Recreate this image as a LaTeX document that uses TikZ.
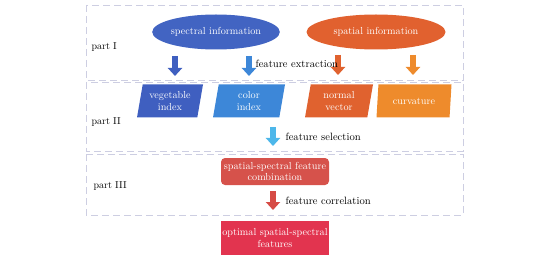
\documentclass[tikz,border=0pt]{standalone}
\usetikzlibrary{shapes.geometric,arrows.meta}
\definecolor{boxline}{HTML}{CDCEE2}
\definecolor{cspectral}{HTML}{4264C2}
\definecolor{cspatial}{HTML}{E1612F}
\definecolor{cveg}{HTML}{3F5FC0}
\definecolor{ccolor}{HTML}{3D87D8}
\definecolor{cnormal}{HTML}{E0622F}
\definecolor{ccurv}{HTML}{EE8B2C}
\definecolor{cssf}{HTML}{D6524B}
\definecolor{copt}{HTML}{E2344F}
\definecolor{clight}{HTML}{4DB7EA}
\definecolor{cred}{HTML}{D64B45}
\begin{document}
\begin{tikzpicture}[x=1pt,y=-1pt,
  partbox/.style={draw=boxline,line width=0.9pt,dash pattern=on 7pt off 4pt},
  partlabel/.style={anchor=west,font=\fontsize{10}{11}\selectfont,text=black},
  txt/.style={font=\fontsize{10.6}{12}\selectfont,text=black,anchor=west},
  inshape/.style={text=white,font=\fontsize{10.2}{11.5}\selectfont,align=center,inner sep=0pt},
  oval/.style={inshape,ellipse,minimum height=35pt},
  para/.style={inshape,trapezium,trapezium left angle=73,trapezium right angle=107,trapezium stretches body,minimum height=33pt},
  fatarrow/.style={line width=6pt,-{Triangle[width=14pt,length=8pt]}}
]
\useasboundingbox (0,0) rectangle (554,259);
% part boxes
\draw[partbox] (86,5) rectangle (463,80);
\draw[partbox] (86,82) rectangle (463,151);
\draw[partbox] (86,154) rectangle (463,215);
\node[partlabel] (p1) at (88,47) {part I};
\node[partlabel] (p2) at (88,122) {part II};
\node[partlabel] (p3) at (90,186) {part III};
% ellipses
\node[oval,fill=cspectral,minimum width=126pt] (spec) at (216,32) {spectral information};
\node[oval,fill=cspatial,minimum width=139pt] (spat) at (376,32) {spatial information};
% parallelograms
\node[para,fill=cveg,minimum width=66pt] (veg) at (170,101) {vegetable\\index};
\node[para,fill=ccolor,minimum width=72pt] (col) at (249,101) {color\\index};
\node[para,fill=cnormal,minimum width=68pt] (nor) at (339,101) {normal\\vector};
\node[para,fill=ccurv,minimum width=75pt] (cur) at (414,101) {curvature};
% boxes
\node[inshape,fill=cssf,rounded corners=4pt,minimum width=108pt,minimum height=27pt] (ssf) at (275,171.5) {spatial-spectral feature\\combination};
\node[inshape,fill=copt,minimum width=108pt,minimum height=34pt] (opt) at (275,238) {optimal spatial-spectral\\features};
% arrow coordinates
\coordinate (a1s) at (175,56); \coordinate (a1e) at (175,76);
\coordinate (a2s) at (249,56); \coordinate (a2e) at (249,76);
\coordinate (a3s) at (338,55); \coordinate (a3e) at (338,75);
\coordinate (a4s) at (413,55); \coordinate (a4e) at (413,75);
\coordinate (ss) at (273,127); \coordinate (se) at (273,146);
\coordinate (cs) at (273,191); \coordinate (ce) at (273,210);
\draw[fatarrow,draw=cveg,fill=cveg] (a1s) -- (a1e);
\draw[fatarrow,draw=ccolor,fill=ccolor] (a2s) -- (a2e);
\draw[fatarrow,draw=cnormal,fill=cnormal] (a3s) -- (a3e);
\draw[fatarrow,draw=ccurv,fill=ccurv] (a4s) -- (a4e);
\draw[fatarrow,draw=clight,fill=clight] (ss) -- (se);
\draw[fatarrow,draw=cred,fill=cred] (cs) -- (ce);
% labels
\node[txt] (fe) at (252,64) {feature extraction};
\node[txt] (fs) at (282,137) {feature selection};
\node[txt] (fc) at (282,201) {feature correlation};
\end{tikzpicture}
\end{document}
